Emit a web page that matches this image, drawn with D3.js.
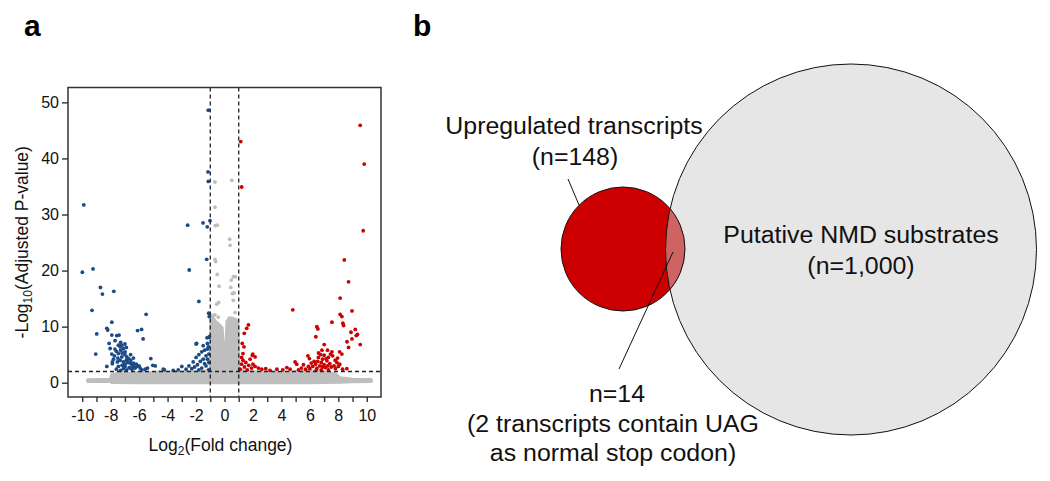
<!DOCTYPE html>
<html><head><meta charset="utf-8">
<script src="https://cdn.jsdelivr.net/npm/d3@7"></script>
<style>
html,body{margin:0;padding:0;background:#fff;}
svg{display:block;font-family:"Liberation Sans",Arial,Helvetica,sans-serif;}
</style></head>
<body><svg id="chart" width="1050" height="481"></svg>
<script>
// ---------- DATA ----------
const xTicks = [-10,-9,-8,-7,-6,-5,-4,-3,-2,-1,0,1,2,3,4,5,6,7,8,9,10];
const yTicks = [0,10,20,30,40,50];
const foldCut = [-1, 1];
const pCut = 2;

// significantly down-regulated transcripts [log2FC, -log10 padj]
const downPoints = [
 [-9.89,31.7],[-9.99,19.7],[-9.24,20.3],[-8.72,17.0],[-8.58,15.8],[-7.78,16.3],[-9.31,12.9],[-8.98,8.7],[-9.05,5.1],[-8.27,2.9],
 [-7.92,10.8],[-8.27,9.7],[-8.21,9.4],[-7.92,8.5],[-7.57,8.4],[-7.41,8.5],[-8.11,7.0],[-8.04,6.1],[-7.69,7.5],[-7.92,5.1],
 [-7.74,4.8],[-7.88,3.7],[-7.88,3.4],[-7.53,3.7],[-6.11,9.3],[-5.83,9.5],[-5.72,7.8],[-5.51,12.2],[-5.18,4.3],[-5.04,3.1],
 [-4.87,3.0],[-5.41,2.6],[-4.22,2.3],
 [-7.46,6.7],[-7.34,6.4],[-7.22,6.7],[-7.11,6.1],[-6.99,5.5],[-7.46,5.2],[-7.22,4.6],[-6.87,4.6],[-6.75,4.3],[-7.34,4.0],
 [-7.11,3.7],[-6.63,3.5],[-6.51,3.2],[-6.40,2.9],[-6.28,2.6],[-6.16,2.9],[-6.99,2.9],[-7.46,2.9],[-6.87,2.3],[-6.63,2.6],
 [-5.93,2.6],[-5.81,2.3],[-5.58,2.4],[-7.3,5.8],[-7.0,5.0],[-7.2,5.3],[-6.9,4.0],[-7.0,3.3],[-7.2,3.1],[-6.8,3.6],
 [-6.6,4.0],[-6.4,3.5],[-6.2,3.3],[-6.0,3.0],[-6.5,2.4],[-7.1,2.5],[-7.6,2.4],[-7.3,2.2],[-6.7,2.7],[-7.5,4.4],
 [-7.6,5.6],[-7.0,6.9],[-7.3,7.2],[-6.9,6.3],[-6.6,5.0],[-6.4,4.4],[-7.7,6.0],[-7.8,4.2],
 [-2.59,28.1],[-2.48,20.1],[-1.80,14.5],[-2.0,6.9],[-1.51,28.5],[-1.21,27.8],[-1.02,28.9],[-1.14,48.6],[-1.16,37.6],[-1.14,35.9],
 [-1.25,22.0],[-1.11,12.4],[-1.07,11.8],[-1.07,8.2],[-1.23,8.0],
 [-3.0,2.9],[-3.25,2.3],[-4.3,2.4],[-2.2,3.7],[-1.96,7.0],[-1.14,6.4],[-1.09,8.1],[-2.0,4.5],[-1.8,5.0],[-1.6,5.5],
 [-1.4,5.8],[-1.2,6.0],[-1.3,4.8],[-1.5,4.2],[-1.7,3.8],[-1.9,3.2],[-2.1,2.8],[-2.3,2.5],[-1.6,2.6],[-1.3,3.0],
 [-1.1,3.6],[-1.2,4.2],[-1.4,3.4],[-1.8,2.3],[-1.1,2.3],[-1.1,5.1],[-2.5,3.0],[-2.7,2.4],[-3.6,2.2],[-1.2,7.0],[-1.5,6.6]
];

// significantly up-regulated transcripts
const upPoints = [
 [1.14,43.0],[1.21,34.9],[9.54,45.9],[9.82,39.0],[9.75,27.1],[4.80,13.0],[8.42,21.9],[8.72,18.0],[8.13,15.1],[8.13,12.2],
 [8.25,11.8],[8.96,12.8],[7.55,10.8],[6.49,10.0],[6.56,9.6],[6.42,8.2],[8.32,10.6],[8.37,10.2],[9.19,9.5],[8.89,9.0],
 [9.35,8.6],[9.26,8.4],[8.61,7.3],[8.96,7.8],[8.72,6.3],[9.54,6.8],[7.01,6.8],[6.85,5.8],[7.24,5.8],[7.55,5.5],
 [6.61,5.3],[8.09,5.5],[8.25,5.1],[5.86,4.8],[5.97,4.3],[4.96,3.7],[5.08,3.3],[5.55,3.2],[7.78,4.0],[7.9,3.6],
 [1.68,10.3],[1.56,9.7],[1.39,8.8],[1.25,7.0],[1.37,6.4],[1.99,5.1],[1.96,4.9],[2.15,4.6],[2.15,2.9],[2.38,2.6],
 [2.62,2.4],[3.68,2.4],[4.1,2.3],[4.38,2.7],[4.61,2.4],[1.2,4.5],[1.3,4.0],[1.5,3.6],[1.2,3.3],[1.7,3.1],
 [1.4,2.8],[1.9,2.6],[1.1,2.4],[1.6,2.3],[2.0,3.3],[1.3,5.2],[2.9,2.5],[3.2,2.2],[1.8,4.2],
 [6.0,2.5],[6.2,2.9],[6.4,3.3],[6.5,2.6],[6.7,3.0],[6.8,3.6],[6.9,4.2],[7.0,3.2],[7.1,2.7],[7.2,3.9],
 [7.3,4.5],[7.4,3.4],[7.5,2.8],[7.6,4.8],[7.7,3.0],[6.3,3.8],[6.6,4.5],[7.0,4.9],[6.1,3.5],[5.9,2.9],
 [5.7,2.4],[5.4,2.6],[5.2,2.3],[6.8,2.3],[7.3,2.3],[7.8,2.5],[8.0,2.9],[8.1,3.3],[7.95,4.4],[6.45,2.3],
 [6.9,2.8],[7.25,3.0],[6.55,3.8],[7.15,4.3],[6.75,5.0],[7.45,5.1],[8.3,2.4],[8.6,2.5]
];

// non-significant transcripts: scattered ones
const nsPoints = [
 [-0.67,35.8],[0.51,36.1],[-0.67,31.3],[-0.65,28.0],[-0.51,28.1],[0.36,25.6],[0.39,24.5],[-0.67,22.0],[-0.62,21.6],
 [-0.51,19.3],[-0.38,17.2],[0.62,18.9],[0.76,18.9],[0.48,18.3],[0.44,17.0],[0.67,16.0],[0.55,15.9],[0.62,14.7],
 [-0.55,14.0],[-0.41,14.3],[0.74,12.5],[-0.67,12.1],[-0.44,11.7],[0.34,11.5]
];
// non-significant transcripts: dense cloud outline (upper and lower edge of point centres)
const cloudUpper = [
 [-9.6,0.45],[-8.0,0.55],[-7.9,1.4],[-7.2,1.7],[-6.5,1.6],[-6.0,1.8],[-5.0,1.7],[-4.5,1.9],[-4.0,1.8],[-3.0,1.8],
 [-2.0,1.9],[-1.3,2.0],[-0.97,2.6],[-0.92,12.0],[-0.7,11.0],[-0.4,10.3],[-0.2,9.8],[-0.1,6.5],[0.0,3.6],[0.1,4.0],
 [0.16,8.0],[0.2,11.0],[0.5,11.5],[0.8,11.2],[0.92,10.5],[0.97,2.6],[1.3,2.0],[2.0,1.9],[3.0,1.8],[4.0,1.7],
 [5.0,1.9],[6.0,2.0],[7.0,1.9],[7.8,1.5],[8.1,0.8],[9.0,0.55],[10.3,0.5]
];
const cloudLower = [
 [-9.6,0.3],[-8.0,0.3],[-7.9,0.1],[-6.0,0.05],[0.0,0.05],[6.0,0.05],[8.1,0.15],[9.0,0.25],[10.3,0.3]
];

// Venn panel
const vennSets = [
 {name:"Putative NMD substrates", n:"1,000"},
 {name:"Upregulated transcripts", n:"148"}
];
const vennOverlap = {n:"14", note1:"(2 transcripts contain UAG", note2:"as normal stop codon)"};

// ---------- DRAWING ----------
const svg = d3.select("#chart");
const FONT = '"Liberation Sans",Arial,Helvetica,sans-serif';
const blue = "#1c4a86", red = "#cc0000", grey = "#bebebe";

svg.append("text").attr("x",24).attr("y",36).attr("font-size",30).attr("font-weight","bold").text("a");
svg.append("text").attr("x",413).attr("y",36).attr("font-size",30).attr("font-weight","bold").text("b");

const L=68, R=381, T=87.5, B=397;
const x = d3.scaleLinear().domain([-11,11]).range([L, R]);
const y = d3.scaleLinear().domain([-2.55,52.65]).range([B, T]);
const r = 1.9;

const gp = svg.append("g");
// dense cloud
const cloud = cloudUpper.concat(cloudLower.slice().reverse());
gp.append("path")
  .attr("d", d3.line().x(d=>x(d[0])).y(d=>y(d[1]))(cloud) + "Z")
  .attr("fill", grey).attr("stroke", grey).attr("stroke-width", r*2).attr("stroke-linejoin","round");
gp.selectAll("circle.ns").data(nsPoints).join("circle").attr("class","ns")
  .attr("cx",d=>x(d[0])).attr("cy",d=>y(d[1])).attr("r",r).attr("fill",grey);
gp.selectAll("circle.dn").data(downPoints).join("circle").attr("class","dn")
  .attr("cx",d=>x(d[0])).attr("cy",d=>y(d[1])).attr("r",r).attr("fill",blue);
gp.selectAll("circle.up").data(upPoints).join("circle").attr("class","up")
  .attr("cx",d=>x(d[0])).attr("cy",d=>y(d[1])).attr("r",r).attr("fill",red);

// threshold lines
foldCut.forEach(v=>{
  gp.append("line").attr("x1",x(v)).attr("x2",x(v)).attr("y1",T).attr("y2",B)
    .attr("stroke","#222").attr("stroke-width",1.3).attr("stroke-dasharray","4,3");
});
gp.append("line").attr("x1",L).attr("x2",R).attr("y1",y(pCut)).attr("y2",y(pCut))
  .attr("stroke","#222").attr("stroke-width",1.3).attr("stroke-dasharray","4,3");

// box
svg.append("rect").attr("x",L).attr("y",T).attr("width",R-L).attr("height",B-T)
  .attr("fill","none").attr("stroke","#333").attr("stroke-width",1.5);

// axes
const xa = svg.append("g").attr("transform",`translate(0,${B})`)
  .call(d3.axisBottom(x).tickValues(xTicks).tickSize(5).tickPadding(8)
        .tickFormat(d => d % 2 === 0 ? String(d) : ""));
const ya = svg.append("g").attr("transform",`translate(${L},0)`)
  .call(d3.axisLeft(y).tickValues(yTicks).tickSize(6).tickPadding(3).tickFormat(d=>String(d)));
[xa,ya].forEach(a=>{
  a.select(".domain").remove();
  a.selectAll("line").attr("stroke","#333").attr("stroke-width",1.4);
  a.selectAll("text").attr("font-size",16).attr("font-family",FONT).attr("fill","#111");
});

// axis titles
const xt = svg.append("text").attr("x",(L+R)/2 - 4).attr("y",451).attr("text-anchor","middle")
  .attr("font-size",17.5).attr("fill","#111");
xt.append("tspan").text("Log");
xt.append("tspan").attr("font-size",12).attr("dy",4).text("2");
xt.append("tspan").attr("dy",-4).text("(Fold change)");

const yt = svg.append("text").attr("transform",`translate(27.5,${(T+B)/2}) rotate(-90)`)
  .attr("text-anchor","middle").attr("font-size",17.5).attr("fill","#111");
yt.append("tspan").text("-Log");
yt.append("tspan").attr("font-size",12).attr("dy",4).text("10");
yt.append("tspan").attr("dy",-4).text("(Adjusted P-value)");

// ---------- Venn ----------
const big = {cx:851, cy:249.5, r:185.5};
const small = {cx:623, cy:249, r:62};
const vg = svg.append("g");
vg.append("defs").append("clipPath").attr("id","bigclip")
  .append("circle").attr("cx",big.cx).attr("cy",big.cy).attr("r",big.r);
vg.append("circle").attr("cx",big.cx).attr("cy",big.cy).attr("r",big.r).attr("fill","#e6e6e6");
vg.append("circle").attr("cx",small.cx).attr("cy",small.cy).attr("r",small.r).attr("fill",red);
vg.append("circle").attr("cx",small.cx).attr("cy",small.cy).attr("r",small.r)
  .attr("fill","#cf6262").attr("clip-path","url(#bigclip)");
vg.append("circle").attr("cx",big.cx).attr("cy",big.cy).attr("r",big.r).attr("fill","none").attr("stroke","#111").attr("stroke-width",1);
vg.append("circle").attr("cx",small.cx).attr("cy",small.cy).attr("r",small.r).attr("fill","none").attr("stroke","#111").attr("stroke-width",1);

function label(txt, cx, by){
  vg.append("text").attr("transform",`translate(${cx},${by}) scale(1.06,1)`).attr("text-anchor","middle")
    .attr("font-size",23.5).attr("fill","#111").text(txt);
}
label(vennSets[0].name, 861, 243);
label(`(n=${vennSets[0].n})`, 861, 274);
label(vennSets[1].name, 574, 134);
label(`(n=${vennSets[1].n})`, 575, 165);
label(`n=${vennOverlap.n}`, 617, 402);
label(vennOverlap.note1, 613, 432);
label(vennOverlap.note2, 613, 461);

vg.append("line").attr("x1",568).attr("y1",179).attr("x2",579).attr("y2",205).attr("stroke","#111").attr("stroke-width",1);
vg.append("line").attr("x1",619).attr("y1",369).attr("x2",673).attr("y2",252).attr("stroke","#111").attr("stroke-width",1);
</script>
</body></html>
